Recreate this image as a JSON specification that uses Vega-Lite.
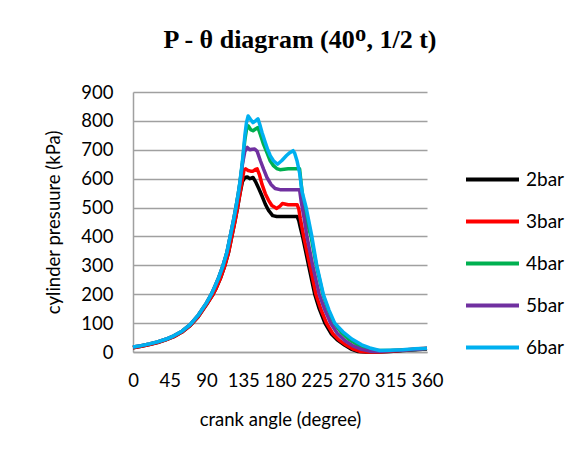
{
  "$schema": "https://vega.github.io/schema/vega-lite/v6.json",
  "autosize": "none",
  "width": 294,
  "height": 260,
  "padding": {"left": 133, "top": 92, "right": 155, "bottom": 109},
  "background": "white",
  "title": {
    "text": "P - θ diagram (40ᴼ, 1/2 t)",
    "font": "Liberation Serif",
    "fontSize": 26,
    "fontWeight": "bold",
    "color": "black",
    "anchor": "middle",
    "frame": "group",
    "dx": 20,
    "offset": 30
  },
  "config": {
    "view": {"stroke": null},
    "font": "Lato",
    "axis": {
      "labelFont": "Lato",
      "titleFont": "Lato",
      "labelFontSize": 18.5,
      "titleFontSize": 18.5,
      "labelColor": "black",
      "titleColor": "black",
      "titleFontWeight": "normal",
      "ticks": false,
      "domainColor": "#A0A0A0",
      "domainWidth": 1.5,
      "gridColor": "#A0A0A0",
      "gridWidth": 1.5
    },
    "legend": {
      "labelFont": "Lato",
      "labelFontSize": 19,
      "labelColor": "black"
    }
  },
  "data": {
    "values": [
      {"angle": 0, "p": 15, "s": "2bar"}, {"angle": 10, "p": 20, "s": "2bar"}, {"angle": 20, "p": 26, "s": "2bar"}, {"angle": 30, "p": 33, "s": "2bar"}, {"angle": 40, "p": 42, "s": "2bar"}, {"angle": 50, "p": 53, "s": "2bar"}, {"angle": 60, "p": 69, "s": "2bar"}, {"angle": 70, "p": 91, "s": "2bar"}, {"angle": 80, "p": 123, "s": "2bar"}, {"angle": 90, "p": 164, "s": "2bar"}, {"angle": 98, "p": 200, "s": "2bar"}, {"angle": 102, "p": 222, "s": "2bar"}, {"angle": 107, "p": 255, "s": "2bar"}, {"angle": 112, "p": 295, "s": "2bar"}, {"angle": 117, "p": 345, "s": "2bar"}, {"angle": 121, "p": 400, "s": "2bar"}, {"angle": 125, "p": 455, "s": "2bar"}, {"angle": 128, "p": 500, "s": "2bar"}, {"angle": 131, "p": 548, "s": "2bar"}, {"angle": 134, "p": 590, "s": "2bar"}, {"angle": 137, "p": 604, "s": "2bar"}, {"angle": 140, "p": 606, "s": "2bar"}, {"angle": 143, "p": 600, "s": "2bar"}, {"angle": 147, "p": 604, "s": "2bar"}, {"angle": 150, "p": 590, "s": "2bar"}, {"angle": 154, "p": 566, "s": "2bar"}, {"angle": 158, "p": 540, "s": "2bar"}, {"angle": 162, "p": 512, "s": "2bar"}, {"angle": 166, "p": 490, "s": "2bar"}, {"angle": 171, "p": 472, "s": "2bar"}, {"angle": 176, "p": 469, "s": "2bar"}, {"angle": 201, "p": 469, "s": "2bar"}, {"angle": 203, "p": 455, "s": "2bar"}, {"angle": 205, "p": 430, "s": "2bar"}, {"angle": 207.6, "p": 400, "s": "2bar"}, {"angle": 215, "p": 300, "s": "2bar"}, {"angle": 222.5, "p": 200, "s": "2bar"}, {"angle": 228, "p": 150, "s": "2bar"}, {"angle": 235, "p": 100, "s": "2bar"}, {"angle": 243, "p": 62, "s": "2bar"}, {"angle": 250, "p": 42, "s": "2bar"}, {"angle": 259, "p": 24, "s": "2bar"}, {"angle": 267, "p": 10, "s": "2bar"}, {"angle": 275, "p": 2, "s": "2bar"}, {"angle": 285, "p": 0, "s": "2bar"}, {"angle": 300, "p": 0, "s": "2bar"}, {"angle": 315, "p": 2, "s": "2bar"}, {"angle": 330, "p": 5, "s": "2bar"}, {"angle": 345, "p": 8, "s": "2bar"}, {"angle": 360, "p": 10, "s": "2bar"},

      {"angle": 0, "p": 15, "s": "3bar"}, {"angle": 10, "p": 20, "s": "3bar"}, {"angle": 20, "p": 26, "s": "3bar"}, {"angle": 30, "p": 33, "s": "3bar"}, {"angle": 40, "p": 42, "s": "3bar"}, {"angle": 50, "p": 53, "s": "3bar"}, {"angle": 60, "p": 69, "s": "3bar"}, {"angle": 70, "p": 91, "s": "3bar"}, {"angle": 80, "p": 123, "s": "3bar"}, {"angle": 90, "p": 164, "s": "3bar"}, {"angle": 98, "p": 200, "s": "3bar"}, {"angle": 102, "p": 222, "s": "3bar"}, {"angle": 107, "p": 255, "s": "3bar"}, {"angle": 112, "p": 295, "s": "3bar"}, {"angle": 117, "p": 345, "s": "3bar"}, {"angle": 121, "p": 400, "s": "3bar"}, {"angle": 125, "p": 455, "s": "3bar"}, {"angle": 128, "p": 500, "s": "3bar"}, {"angle": 131, "p": 550, "s": "3bar"}, {"angle": 134, "p": 600, "s": "3bar"}, {"angle": 136, "p": 630, "s": "3bar"}, {"angle": 138, "p": 634, "s": "3bar"}, {"angle": 141, "p": 628, "s": "3bar"}, {"angle": 144, "p": 626, "s": "3bar"}, {"angle": 147, "p": 626, "s": "3bar"}, {"angle": 150, "p": 632, "s": "3bar"}, {"angle": 152, "p": 634, "s": "3bar"}, {"angle": 155, "p": 612, "s": "3bar"}, {"angle": 158, "p": 580, "s": "3bar"}, {"angle": 162, "p": 548, "s": "3bar"}, {"angle": 166, "p": 525, "s": "3bar"}, {"angle": 170, "p": 507, "s": "3bar"}, {"angle": 176, "p": 497, "s": "3bar"}, {"angle": 180, "p": 505, "s": "3bar"}, {"angle": 183, "p": 514, "s": "3bar"}, {"angle": 190, "p": 510, "s": "3bar"}, {"angle": 201, "p": 510, "s": "3bar"}, {"angle": 203, "p": 495, "s": "3bar"}, {"angle": 205, "p": 460, "s": "3bar"}, {"angle": 209, "p": 400, "s": "3bar"}, {"angle": 216.6, "p": 300, "s": "3bar"}, {"angle": 224, "p": 200, "s": "3bar"}, {"angle": 230, "p": 148, "s": "3bar"}, {"angle": 237, "p": 100, "s": "3bar"}, {"angle": 245, "p": 62, "s": "3bar"}, {"angle": 252, "p": 42, "s": "3bar"}, {"angle": 261, "p": 24, "s": "3bar"}, {"angle": 270, "p": 10, "s": "3bar"}, {"angle": 278, "p": 2, "s": "3bar"}, {"angle": 288, "p": 0, "s": "3bar"}, {"angle": 300, "p": 0, "s": "3bar"}, {"angle": 315, "p": 3, "s": "3bar"}, {"angle": 330, "p": 6, "s": "3bar"}, {"angle": 345, "p": 10, "s": "3bar"}, {"angle": 360, "p": 13, "s": "3bar"},

      {"angle": 0, "p": 17, "s": "4bar"}, {"angle": 10, "p": 22, "s": "4bar"}, {"angle": 20, "p": 28, "s": "4bar"}, {"angle": 30, "p": 35, "s": "4bar"}, {"angle": 40, "p": 44, "s": "4bar"}, {"angle": 50, "p": 56, "s": "4bar"}, {"angle": 60, "p": 72, "s": "4bar"}, {"angle": 70, "p": 95, "s": "4bar"}, {"angle": 80, "p": 128, "s": "4bar"}, {"angle": 90, "p": 170, "s": "4bar"}, {"angle": 96, "p": 200, "s": "4bar"}, {"angle": 100, "p": 225, "s": "4bar"}, {"angle": 105, "p": 258, "s": "4bar"}, {"angle": 110, "p": 297, "s": "4bar"}, {"angle": 115, "p": 345, "s": "4bar"}, {"angle": 119, "p": 400, "s": "4bar"}, {"angle": 123, "p": 455, "s": "4bar"}, {"angle": 126, "p": 500, "s": "4bar"}, {"angle": 129, "p": 550, "s": "4bar"}, {"angle": 131, "p": 588, "s": "4bar"}, {"angle": 134, "p": 655, "s": "4bar"}, {"angle": 137, "p": 735, "s": "4bar"}, {"angle": 139, "p": 770, "s": "4bar"}, {"angle": 141, "p": 783, "s": "4bar"}, {"angle": 144, "p": 770, "s": "4bar"}, {"angle": 147, "p": 766, "s": "4bar"}, {"angle": 150, "p": 772, "s": "4bar"}, {"angle": 153, "p": 777, "s": "4bar"}, {"angle": 156, "p": 752, "s": "4bar"}, {"angle": 160, "p": 718, "s": "4bar"}, {"angle": 164, "p": 690, "s": "4bar"}, {"angle": 168, "p": 662, "s": "4bar"}, {"angle": 172, "p": 645, "s": "4bar"}, {"angle": 176, "p": 635, "s": "4bar"}, {"angle": 180, "p": 631, "s": "4bar"}, {"angle": 190, "p": 634, "s": "4bar"}, {"angle": 204, "p": 634, "s": "4bar"}, {"angle": 206, "p": 580, "s": "4bar"}, {"angle": 209, "p": 510, "s": "4bar"}, {"angle": 213, "p": 450, "s": "4bar"}, {"angle": 218, "p": 400, "s": "4bar"}, {"angle": 224.5, "p": 300, "s": "4bar"}, {"angle": 232.5, "p": 200, "s": "4bar"}, {"angle": 239, "p": 145, "s": "4bar"}, {"angle": 246, "p": 100, "s": "4bar"}, {"angle": 255, "p": 68, "s": "4bar"}, {"angle": 265, "p": 42, "s": "4bar"}, {"angle": 277, "p": 22, "s": "4bar"}, {"angle": 288, "p": 11, "s": "4bar"}, {"angle": 300, "p": 5, "s": "4bar"}, {"angle": 315, "p": 5, "s": "4bar"}, {"angle": 330, "p": 7, "s": "4bar"}, {"angle": 345, "p": 9, "s": "4bar"}, {"angle": 360, "p": 12, "s": "4bar"},

      {"angle": 0, "p": 17, "s": "5bar"}, {"angle": 10, "p": 22, "s": "5bar"}, {"angle": 20, "p": 28, "s": "5bar"}, {"angle": 30, "p": 35, "s": "5bar"}, {"angle": 40, "p": 44, "s": "5bar"}, {"angle": 50, "p": 56, "s": "5bar"}, {"angle": 60, "p": 72, "s": "5bar"}, {"angle": 70, "p": 95, "s": "5bar"}, {"angle": 80, "p": 128, "s": "5bar"}, {"angle": 90, "p": 170, "s": "5bar"}, {"angle": 96, "p": 200, "s": "5bar"}, {"angle": 100, "p": 225, "s": "5bar"}, {"angle": 105, "p": 258, "s": "5bar"}, {"angle": 110, "p": 297, "s": "5bar"}, {"angle": 115, "p": 345, "s": "5bar"}, {"angle": 119, "p": 400, "s": "5bar"}, {"angle": 123, "p": 455, "s": "5bar"}, {"angle": 126, "p": 500, "s": "5bar"}, {"angle": 129, "p": 548, "s": "5bar"}, {"angle": 131, "p": 585, "s": "5bar"}, {"angle": 134, "p": 650, "s": "5bar"}, {"angle": 137, "p": 695, "s": "5bar"}, {"angle": 140, "p": 708, "s": "5bar"}, {"angle": 143, "p": 700, "s": "5bar"}, {"angle": 146, "p": 702, "s": "5bar"}, {"angle": 149, "p": 703, "s": "5bar"}, {"angle": 152, "p": 695, "s": "5bar"}, {"angle": 156, "p": 662, "s": "5bar"}, {"angle": 160, "p": 632, "s": "5bar"}, {"angle": 164, "p": 604, "s": "5bar"}, {"angle": 169, "p": 580, "s": "5bar"}, {"angle": 174, "p": 566, "s": "5bar"}, {"angle": 180, "p": 562, "s": "5bar"}, {"angle": 204, "p": 562, "s": "5bar"}, {"angle": 206, "p": 520, "s": "5bar"}, {"angle": 210, "p": 455, "s": "5bar"}, {"angle": 213, "p": 400, "s": "5bar"}, {"angle": 220, "p": 300, "s": "5bar"}, {"angle": 228, "p": 200, "s": "5bar"}, {"angle": 235, "p": 145, "s": "5bar"}, {"angle": 242, "p": 100, "s": "5bar"}, {"angle": 250, "p": 65, "s": "5bar"}, {"angle": 260, "p": 38, "s": "5bar"}, {"angle": 270, "p": 20, "s": "5bar"}, {"angle": 280, "p": 9, "s": "5bar"}, {"angle": 290, "p": 3, "s": "5bar"}, {"angle": 300, "p": 2, "s": "5bar"}, {"angle": 315, "p": 4, "s": "5bar"}, {"angle": 330, "p": 6, "s": "5bar"}, {"angle": 345, "p": 9, "s": "5bar"}, {"angle": 360, "p": 12, "s": "5bar"},

      {"angle": 0, "p": 17, "s": "6bar"}, {"angle": 10, "p": 22, "s": "6bar"}, {"angle": 20, "p": 28, "s": "6bar"}, {"angle": 30, "p": 35, "s": "6bar"}, {"angle": 40, "p": 44, "s": "6bar"}, {"angle": 50, "p": 56, "s": "6bar"}, {"angle": 60, "p": 72, "s": "6bar"}, {"angle": 70, "p": 95, "s": "6bar"}, {"angle": 80, "p": 128, "s": "6bar"}, {"angle": 90, "p": 170, "s": "6bar"}, {"angle": 96, "p": 200, "s": "6bar"}, {"angle": 100, "p": 225, "s": "6bar"}, {"angle": 105, "p": 258, "s": "6bar"}, {"angle": 110, "p": 297, "s": "6bar"}, {"angle": 115, "p": 345, "s": "6bar"}, {"angle": 119, "p": 400, "s": "6bar"}, {"angle": 123, "p": 455, "s": "6bar"}, {"angle": 126, "p": 500, "s": "6bar"}, {"angle": 129, "p": 550, "s": "6bar"}, {"angle": 131, "p": 590, "s": "6bar"}, {"angle": 134, "p": 660, "s": "6bar"}, {"angle": 137, "p": 750, "s": "6bar"}, {"angle": 139, "p": 795, "s": "6bar"}, {"angle": 141, "p": 817, "s": "6bar"}, {"angle": 144, "p": 805, "s": "6bar"}, {"angle": 147, "p": 794, "s": "6bar"}, {"angle": 150, "p": 800, "s": "6bar"}, {"angle": 153, "p": 807, "s": "6bar"}, {"angle": 155, "p": 790, "s": "6bar"}, {"angle": 158, "p": 760, "s": "6bar"}, {"angle": 162, "p": 725, "s": "6bar"}, {"angle": 165, "p": 700, "s": "6bar"}, {"angle": 168, "p": 680, "s": "6bar"}, {"angle": 172, "p": 662, "s": "6bar"}, {"angle": 177, "p": 650, "s": "6bar"}, {"angle": 182, "p": 662, "s": "6bar"}, {"angle": 188, "p": 680, "s": "6bar"}, {"angle": 192, "p": 690, "s": "6bar"}, {"angle": 196, "p": 697, "s": "6bar"}, {"angle": 198, "p": 688, "s": "6bar"}, {"angle": 201, "p": 660, "s": "6bar"}, {"angle": 204, "p": 620, "s": "6bar"}, {"angle": 207, "p": 555, "s": "6bar"}, {"angle": 212, "p": 500, "s": "6bar"}, {"angle": 219, "p": 400, "s": "6bar"}, {"angle": 225, "p": 300, "s": "6bar"}, {"angle": 233, "p": 200, "s": "6bar"}, {"angle": 240, "p": 145, "s": "6bar"}, {"angle": 247, "p": 100, "s": "6bar"}, {"angle": 257, "p": 70, "s": "6bar"}, {"angle": 268, "p": 45, "s": "6bar"}, {"angle": 280, "p": 25, "s": "6bar"}, {"angle": 290, "p": 14, "s": "6bar"}, {"angle": 302, "p": 5, "s": "6bar"}, {"angle": 315, "p": 6, "s": "6bar"}, {"angle": 330, "p": 8, "s": "6bar"}, {"angle": 345, "p": 11, "s": "6bar"}, {"angle": 360, "p": 13, "s": "6bar"}
    ]
  },
  "mark": {"type": "line", "strokeWidth": 3.5, "strokeJoin": "round"},
  "encoding": {
    "x": {
      "field": "angle",
      "type": "quantitative",
      "scale": {"domain": [0, 360], "nice": false},
      "axis": {
        "title": "crank angle (degree)",
        "values": [0, 45, 90, 135, 180, 225, 270, 315, 360],
        "grid": false,
        "labelPadding": 19,
        "titlePadding": 21,
        "labelFlush": false
      }
    },
    "y": {
      "field": "p",
      "type": "quantitative",
      "scale": {"domain": [0, 900], "nice": false},
      "axis": {
        "title": "cylinder presuure (kPa)",
        "values": [0, 100, 200, 300, 400, 500, 600, 700, 800, 900],
        "labelPadding": 20,
        "titlePadding": 17,
        "labelFlush": false
      }
    },
    "color": {
      "field": "s",
      "type": "nominal",
      "scale": {
        "domain": ["2bar", "3bar", "4bar", "5bar", "6bar"],
        "range": ["#000000", "#FF0000", "#00B050", "#7030A0", "#00B0F0"]
      },
      "legend": {
        "title": null,
        "orient": "none",
        "legendX": 331,
        "legendY": 59,
        "symbolType": "stroke",
        "symbolSize": 2809,
        "symbolStrokeWidth": 4,
        "rowPadding": 3,
        "labelOffset": 5
      }
    }
  }
}
